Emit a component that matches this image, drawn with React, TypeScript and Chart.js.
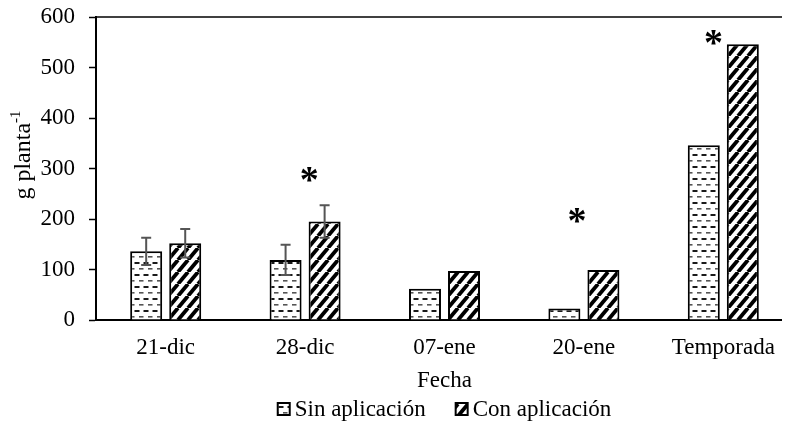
import { useEffect, useRef } from "react";
import { Chart, registerables } from "chart.js";

Chart.register(...registerables);

const categories = ["21-dic", "28-dic", "07-ene", "20-ene", "Temporada"];
const seriesNames = ["Sin aplicación", "Con aplicación"];
const sinAplicacion = [136, 119, 62, 23, 346];
const conAplicacion = [152, 195, 97, 99, 546];
const sinError = [27, 30, 0, 0, 0];
const conError = [28, 32, 0, 0, 0];
const significance = ["", "*", "", "*", "*"];
const significanceY = [0, 285, 0, 204, 556];
const significanceShift = [0, 0.03, 0, -0.05, -0.07];
const yMin = 0;
const yMax = 600;
const yStep = 100;
const xTitle = "Fecha";
const yTitleMain = "g planta";
const yTitleSup = "-1";

const FONT = "'Liberation Serif', 'Times New Roman', serif";
const FS = 23;

function makeDashPattern(): CanvasPattern | string {
  const c = document.createElement("canvas");
  c.width = 9;
  c.height = 12;
  const g = c.getContext("2d");
  if (!g) return "#fff";
  g.fillStyle = "#fff";
  g.fillRect(0, 0, 9, 12);
  g.fillStyle = "#1a1a1a";
  g.fillRect(0.5, 2, 5, 2);
  g.fillStyle = "#555";
  g.fillRect(5, 8, 4, 1.6);
  g.fillRect(0, 8, 0.5, 1.6);
  return g.createPattern(c, "repeat") || "#fff";
}

function makeHatchPattern(): CanvasPattern | string {
  const w = 10;
  const h = 12;
  const c = document.createElement("canvas");
  c.width = w;
  c.height = h;
  const g = c.getContext("2d");
  if (!g) return "#000";
  g.fillStyle = "#fff";
  g.fillRect(0, 0, w, h);
  g.strokeStyle = "#000";
  g.lineWidth = 3.8;
  for (const k of [-1, 0, 1]) {
    g.beginPath();
    g.moveTo(k * w, h);
    g.lineTo(k * w + w, 0);
    g.stroke();
  }
  return g.createPattern(c, "repeat") || "#000";
}

const overlayPlugin = {
  id: "overlay",
  afterDatasetsDraw(chart: any) {
    const ctx = chart.ctx as CanvasRenderingContext2D;
    const { left, right, top } = chart.chartArea;
    const ys = chart.scales.y;
    const xs = chart.scales.x;
    ctx.save();
    // top border of plot
    ctx.strokeStyle = "#000";
    ctx.lineWidth = 1.5;
    ctx.beginPath();
    ctx.moveTo(left, top);
    ctx.lineTo(right + 20, top);
    ctx.stroke();

    // error bars
    const groups = [
      { vals: sinAplicacion, errs: sinError },
      { vals: conAplicacion, errs: conError },
    ];
    ctx.strokeStyle = "#555";
    ctx.lineWidth = 2;
    groups.forEach((grp, di) => {
      const meta = chart.getDatasetMeta(di);
      grp.errs.forEach((e, j) => {
        if (!e) return;
        const bx = meta.data[j].x;
        const yt = ys.getPixelForValue(grp.vals[j] + e);
        const yb = ys.getPixelForValue(grp.vals[j] - e);
        ctx.beginPath();
        ctx.moveTo(bx, yt);
        ctx.lineTo(bx, yb);
        ctx.moveTo(bx - 5, yt);
        ctx.lineTo(bx + 5, yt);
        ctx.moveTo(bx - 5, yb);
        ctx.lineTo(bx + 5, yb);
        ctx.stroke();
      });
    });

    // significance asterisks
    const catW = (xs.right - xs.left) / categories.length;
    ctx.fillStyle = "#000";
    ctx.font = `bold 38px ${FONT}`;
    ctx.textAlign = "center";
    ctx.textBaseline = "middle";
    significance.forEach((s, j) => {
      if (!s) return;
      const px = xs.getPixelForValue(j) + significanceShift[j] * catW;
      const py = ys.getPixelForValue(significanceY[j]);
      ctx.fillText(s, px, py + 6);
    });
    ctx.restore();
  },
  afterDraw(chart: any) {
    const ctx = chart.ctx as CanvasRenderingContext2D;
    const { left, right } = chart.chartArea;
    ctx.save();
    ctx.fillStyle = "#000";

    // y axis title with superscript
    ctx.save();
    ctx.translate(16, 147);
    ctx.rotate(-Math.PI / 2);
    ctx.font = `24px ${FONT}`;
    const wMain = ctx.measureText(yTitleMain).width;
    ctx.font = `15px ${FONT}`;
    const wSup = ctx.measureText(yTitleSup).width;
    const x0 = -(wMain + wSup) / 2;
    ctx.textBaseline = "middle";
    ctx.textAlign = "left";
    ctx.font = `24px ${FONT}`;
    ctx.fillText(yTitleMain, x0, 0);
    ctx.font = `15px ${FONT}`;
    ctx.fillText(yTitleSup, x0 + wMain, -8);
    ctx.restore();

    // legend
    const box = 12;
    const gapBoxText = 5;
    const gapItems = 30;
    ctx.font = `${FS}px ${FONT}`;
    const items = chart.data.datasets.map((ds: any) => ({
      label: ds.label as string,
      fill: ds.backgroundColor,
      w: ctx.measureText(ds.label).width,
    }));
    const total = items.reduce((s: number, it: any) => s + box + gapBoxText + it.w, 0) + gapItems * (items.length - 1);
    let cx = (left + right) / 2 - total / 2;
    const cy = 401;
    ctx.textBaseline = "middle";
    ctx.textAlign = "left";
    items.forEach((it: any) => {
      ctx.fillStyle = it.fill;
      ctx.fillRect(cx, cy - box / 2, box, box);
      ctx.strokeStyle = "#000";
      ctx.lineWidth = 2;
      ctx.strokeRect(cx, cy - box / 2, box, box);
      ctx.fillStyle = "#000";
      ctx.fillText(it.label, cx + box + gapBoxText, cy + 1);
      cx += box + gapBoxText + it.w + gapItems;
    });
    ctx.restore();
  },
};

export default function App() {
  const ref = useRef<HTMLCanvasElement | null>(null);

  useEffect(() => {
    if (!ref.current) return;
    const dash = makeDashPattern();
    const hatch = makeHatchPattern();
    const chart = new Chart(ref.current, {
      type: "bar",
      data: {
        labels: categories,
        datasets: [
          {
            label: seriesNames[0],
            data: sinAplicacion,
            backgroundColor: dash as any,
            borderColor: "#000",
            borderWidth: 2,
          },
          {
            label: seriesNames[1],
            data: conAplicacion,
            backgroundColor: hatch as any,
            borderColor: "#000",
            borderWidth: 2,
          },
        ],
      },
      options: {
        responsive: false,
        maintainAspectRatio: false,
        animation: false,
        devicePixelRatio: 1,
        datasets: {
          bar: { categoryPercentage: 0.56, barPercentage: 0.82 },
        },
        layout: { padding: { left: 0, right: 15, top: 9, bottom: 39 } },
        plugins: {
          tooltip: { enabled: false },
          legend: { display: false },
        },
        scales: {
          x: {
            grid: { display: true, drawOnChartArea: false, drawTicks: false },
            border: { color: "#000", width: 2 },
            ticks: {
              font: { family: FONT, size: FS },
              color: "#000",
              padding: 14,
            },
            title: {
              display: true,
              text: xTitle,
              font: { family: FONT, size: FS },
              color: "#000",
              padding: { top: 0, bottom: 1 },
            },
            afterFit(scale: any) {
              scale.paddingLeft = 0;
              scale.paddingRight = 0;
              scale.height = 76;
            },
          },
          y: {
            min: yMin,
            max: yMax,
            grid: {
              drawOnChartArea: false,
              drawTicks: true,
              tickLength: 7,
              tickColor: "#000",
              tickWidth: 1.5,
            },
            border: { color: "#000", width: 2 },
            ticks: {
              stepSize: yStep,
              font: { family: FONT, size: FS },
              color: "#000",
              padding: 14,
            },
            afterFit(scale: any) {
              scale.width = 88;
              scale.paddingTop = 0;
              scale.paddingBottom = 0;
            },
          },
        },
      },
      plugins: [overlayPlugin],
    });
    return () => chart.destroy();
  }, []);

  return (
    <div style={{ width: 782, height: 427, overflow: "hidden", position: "relative" }}>
      <canvas ref={ref} width={800} height={427} style={{ display: "block", width: 800, height: 427 }} />
    </div>
  );
}
